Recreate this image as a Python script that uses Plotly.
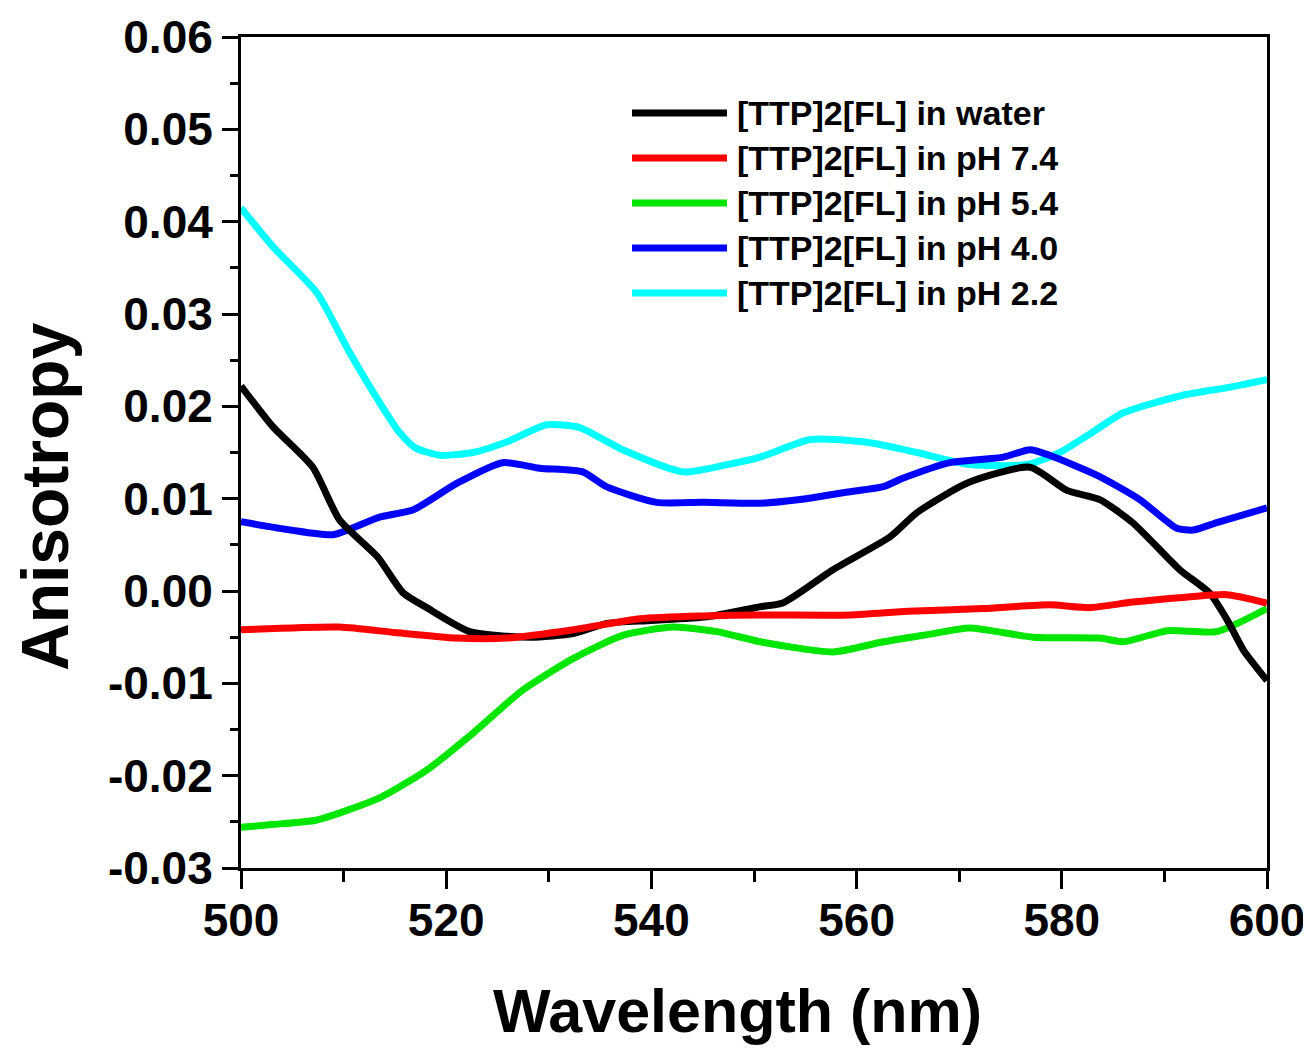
import plotly.graph_objects as go

# ---- data ----
names = ["[TTP]2[FL] in water", "[TTP]2[FL] in pH 7.4", "[TTP]2[FL] in pH 5.4",
         "[TTP]2[FL] in pH 4.0", "[TTP]2[FL] in pH 2.2"]
colors = ["#000000", "#ff0000", "#00e600", "#0000ff", "#00ffff"]

water_x = [500, 503.1, 507, 509.6, 513.3, 515.8, 518.1, 522.3, 528.2, 532.4, 535.7, 540,
           545.4, 550.6, 552.8, 557.7, 563.3, 565.9, 570.8, 576.9, 580.5, 583.7, 586.9,
           591.5, 594.4, 596.1, 597.7, 600]
water_y = [0.0222, 0.0178, 0.0134, 0.0077, 0.0037, -0.0002, -0.0018, -0.0044, -0.0050,
           -0.0046, -0.0035, -0.0032, -0.0028, -0.0017, -0.0013, 0.0023, 0.0059, 0.0085,
           0.0117, 0.0134, 0.0109, 0.0099, 0.0074, 0.0023, -0.0002, -0.0031, -0.0064, -0.0097]

ph74_x = [500, 509.6, 515, 521, 525.9, 532.4, 538.9, 545, 550.6, 559.4, 565, 572.3, 578.8,
          582.7, 586.9, 591.8, 596.1, 600]
ph74_y = [-0.0042, -0.0039, -0.0045, -0.0051, -0.0051, -0.0042, -0.0030, -0.0027, -0.0026,
          -0.0026, -0.0022, -0.0019, -0.0015, -0.0018, -0.0012, -0.0007, -0.0004, -0.0013]

ph54_x = [500, 503, 507.4, 513.5, 518.1, 522.6, 527.5, 532.4, 537.2, 542.1, 546.4, 550.6,
          557.7, 562.6, 567, 571, 577.2, 583.7, 586, 590.3, 595.1, 600]
ph54_y = [-0.0256, -0.0253, -0.0248, -0.0224, -0.0194, -0.0154, -0.0107, -0.0073, -0.0048,
          -0.0039, -0.0044, -0.0055, -0.0066, -0.0055, -0.0047, -0.0040, -0.0050, -0.0051,
          -0.0055, -0.0043, -0.0044, -0.0019]

ph40_x = [500, 504.8, 509, 513.5, 516.8, 521.1, 525.5, 529.1, 533.3, 535.6, 540.5, 545,
          550.6, 554.5, 559, 562.6, 564.5, 569.1, 574.3, 576.9, 578.8, 583.7, 587.6, 591.2,
          592.8, 595.1, 600]
ph40_y = [0.0075, 0.0066, 0.0061, 0.0080, 0.0088, 0.0117, 0.0139, 0.0133, 0.0129, 0.0113,
          0.0096, 0.0096, 0.0095, 0.0099, 0.0107, 0.0113, 0.0122, 0.0139, 0.0145, 0.0153,
          0.0147, 0.0124, 0.0099, 0.0068, 0.0066, 0.0074, 0.0090]

ph22_x = [500, 503.1, 507.4, 510.6, 513.8, 515.5, 517, 519.4, 522.6, 526, 529.8, 533, 537.2,
          543.1, 547, 550.6, 555.5, 561, 565.9, 571, 576.6, 579.8, 583, 586, 591.8, 596, 600]
ph22_y = [0.0415, 0.0373, 0.0323, 0.0258, 0.0199, 0.0171, 0.0155, 0.0147, 0.0150, 0.0162,
          0.0180, 0.0177, 0.0153, 0.0129, 0.0136, 0.0145, 0.0164, 0.0161, 0.0150, 0.0137,
          0.0137, 0.0150, 0.0172, 0.0193, 0.0212, 0.0220, 0.0229]

x_tickvals = [500, 520, 540, 560, 580, 600]
x_ticktext = ["500", "520", "540", "560", "580", "600"]
y_tickvals = [-0.03, -0.02, -0.01, 0.0, 0.01, 0.02, 0.03, 0.04, 0.05, 0.06]
y_ticktext = ["-0.03", "-0.02", "-0.01", "0.00", "0.01", "0.02", "0.03", "0.04", "0.05", "0.06"]
x_title = "Wavelength (nm)"
y_title = "Anisotropy"

series = [(water_x, water_y), (ph74_x, ph74_y), (ph54_x, ph54_y), (ph40_x, ph40_y), (ph22_x, ph22_y)]
draw_order = [4, 3, 2, 0, 1]

# ---- layout geometry (page has an 8px body margin) ----
OFF = 8
W, H = 1311 - OFF, 1049 - OFF
PW, PH = 1026, 831
ML, MT = 241 - OFF, 37 - OFF
MR, MB = W - ML - PW, H - MT - PH


def px_x(p):
    return (p - OFF - ML) / PW


def px_y(p):
    return (MT + PH - (p - OFF)) / PH


FONT = "Liberation Sans, Arial, sans-serif"

fig = go.Figure()
for i in draw_order:
    xs, ys = series[i]
    fig.add_trace(go.Scatter(x=xs, y=ys, mode="lines", name=names[i],
                             line=dict(color=colors[i], width=7, shape="spline", smoothing=0.6),
                             showlegend=False))

# custom legend (long line samples like the original)
shapes = []
annotations = []
for i, name in enumerate(names):
    yc = px_y(113 + 45 * i)
    shapes.append(dict(type="line", xref="paper", yref="paper",
                       x0=px_x(632), x1=px_x(727), y0=yc, y1=yc,
                       line=dict(color=colors[i], width=7)))
    annotations.append(dict(xref="paper", yref="paper", x=px_x(735), y=yc,
                            xanchor="left", yanchor="middle", showarrow=False,
                            text=name, font=dict(family=FONT, size=34, color="black", weight="bold")))

annotations.append(dict(xref="paper", yref="paper", x=px_x(45), y=px_y(497),
                        xanchor="center", yanchor="middle", showarrow=False, textangle=-90,
                        text=y_title, font=dict(family=FONT, size=66, color="black", weight="bold")))
annotations.append(dict(xref="paper", yref="paper", x=px_x(737), y=px_y(1011),
                        xanchor="center", yanchor="middle", showarrow=False,
                        text=x_title, font=dict(family=FONT, size=61, color="black", weight="bold")))

axis_common = dict(showline=True, linecolor="black", linewidth=3, mirror=True,
                   ticks="outside", tickwidth=3, tickcolor="black", showgrid=False,
                   zeroline=False, ticklabeloverflow="allow",
                   tickfont=dict(family=FONT, size=46, color="black", weight="bold"))

fig.update_layout(
    width=W, height=H,
    margin=dict(l=ML, r=MR, t=MT, b=MB, autoexpand=False),
    plot_bgcolor="white", paper_bgcolor="white",
    shapes=shapes, annotations=annotations,
    xaxis=dict(range=[500, 600], tickvals=x_tickvals, ticktext=x_ticktext, ticklen=18,
               ticklabelstandoff=-8,
               minor=dict(ticks="outside", ticklen=11, tickwidth=3, tickcolor="black", dtick=10),
               **axis_common),
    yaxis=dict(range=[-0.03, 0.06], tickvals=y_tickvals, ticktext=y_ticktext, ticklen=16,
               minor=dict(ticks="outside", ticklen=8, tickwidth=3, tickcolor="black", dtick=0.005,
                          tick0=0),
               **axis_common),
)

fig.write_html("out.html")
